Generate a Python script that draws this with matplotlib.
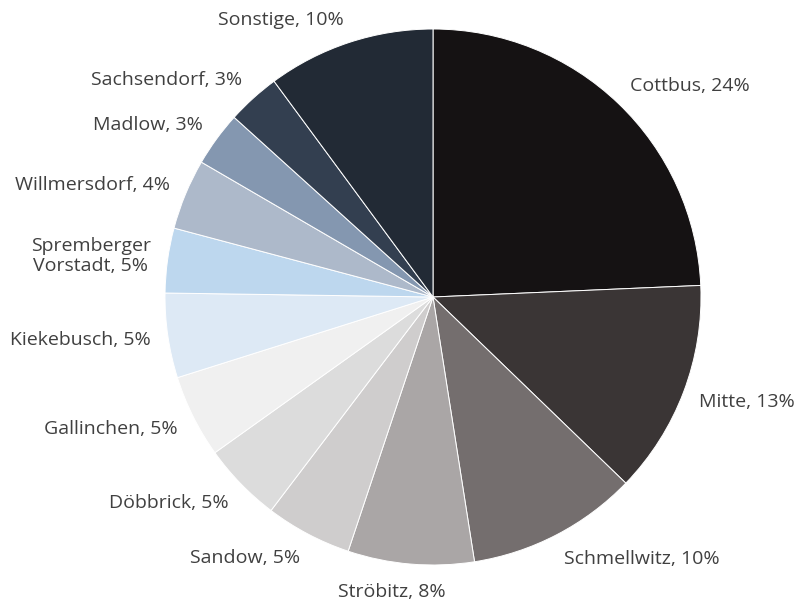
import numpy as np
import matplotlib.pyplot as plt

# Anteile nach Stadtteil, im Uhrzeigersinn ab 12 Uhr
labels = ['Cottbus', 'Mitte', 'Schmellwitz', 'Ströbitz', 'Sandow', 'Döbbrick',
          'Gallinchen', 'Kiekebusch', 'Spremberger\nVorstadt', 'Willmersdorf',
          'Madlow', 'Sachsendorf', 'Sonstige']
# Segmentgroessen (aus dem Bild geschaetzt) und die beschrifteten Prozente
shares = [24.3, 12.9, 10.3, 7.6, 5.2, 4.8, 5.0, 5.1, 3.9, 4.25, 3.3, 3.2, 10.1]
pct_labels = [24, 13, 10, 8, 5, 5, 5, 5, 5, 4, 3, 3, 10]
colors = ['#151213', '#3a3535', '#746e6e', '#aaa6a6', '#cfcdcd', '#dcdcdc',
          '#f0f0f0', '#dde9f5', '#bdd7ee', '#adb9ca', '#8497b0', '#333f50',
          '#222a35']

plt.rcParams['font.family'] = ['Open Sans', 'DejaVu Sans']

W, H = 799, 603
cx, cy, r = 433, 297, 268
fig = plt.figure(figsize=(W / 100, H / 100), dpi=100)
ax = fig.add_axes([(cx - r) / W, (H - cy - r) / H, 2 * r / W, 2 * r / H])

wedges, _ = ax.pie(shares, colors=colors, startangle=90, counterclock=False,
                   radius=1, wedgeprops=dict(edgecolor='white', linewidth=0.7))
ax.set_xlim(-1, 1)
ax.set_ylim(-1, 1)
ax.set_aspect('equal')
ax.axis('off')

# Beschriftung ausserhalb: Textkasten setzt am Punkt auf dem Mittelwinkel an
renderer = fig.canvas.get_renderer()
px = 2.0 / (2 * r)  # Dateneinheiten pro Pixel
gap = 1.063
for w, lab, p in zip(wedges, labels, pct_labels):
    th = np.deg2rad((w.theta1 + w.theta2) / 2)
    t = ax.text(0, 0, f'{lab}, {p}%', ha='center', va='center',
                fontsize=14, color='#404040', linespacing=1.1)
    bb = t.get_window_extent(renderer)
    fy = 0.8 if np.sin(th) > 0 else 1.2
    bw, bh = bb.width * px, bb.height * px * fy
    fx = np.clip(4 * np.cos(th), -1, 1)
    x = gap * np.cos(th) + bw / 2 * fx
    y = gap * np.sin(th) + bh / 2 * np.sin(th)
    t.set_position((x, y))

fig.savefig('out.png', dpi=100)
